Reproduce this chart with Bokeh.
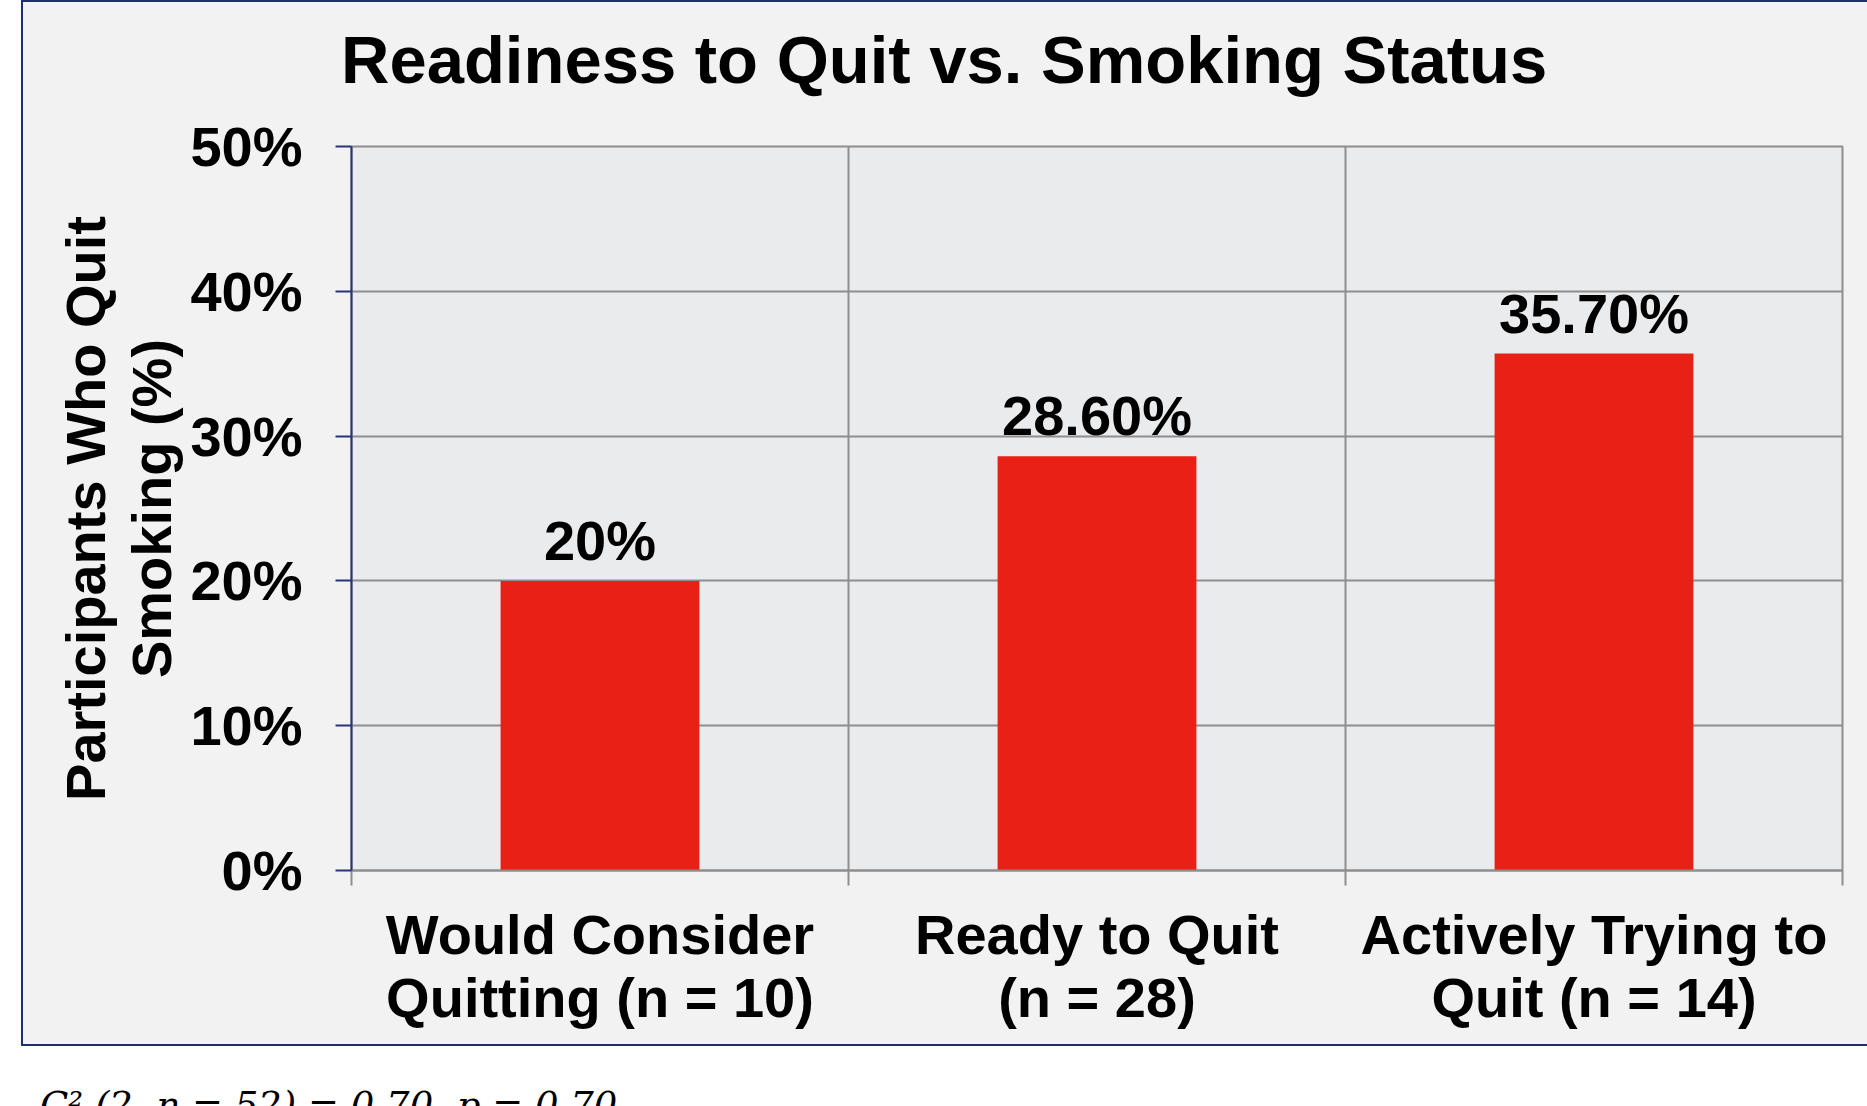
from bokeh.plotting import figure
from bokeh.models import (Range1d, FixedTicker, PrintfTickFormatter, ColumnDataSource,
                          LabelSet, Div, Spacer)
from bokeh.layouts import column, row
from bokeh.core.properties import value
from bokeh.embed import file_html
from bokeh.resources import INLINE

# Data
categories = ["Would Consider\nQuitting (n = 10)", "Ready to Quit\n(n = 28)", "Actively Trying to\nQuit (n = 14)"]
quit_pct = [20, 28.6, 35.7]
value_labels = ["20%", "28.60%", "35.70%"]
y_ticks = [0, 10, 20, 30, 40, 50]
title_text = "Readiness to Quit vs. Smoking Status"
y_title = "Participants Who Quit\nSmoking (%)"
footnote = "C\u00b2 (2, n = 52) = 0.70, p = 0.70"

FONT = "Liberation Sans"
PANEL = "#f2f2f2"
PLOT_BG = "#eaebed"
GRID = "#8e8e8e"
NAVY = "#26357a"
EDGE = "2px solid #1f2e6e"
RED = "#e82016"

centers = [i + 0.5 for i in range(len(categories))]
src = ColumnDataSource(dict(x=centers, top=quit_pct, lab=value_labels))

# chart title strip (top part of the grey panel)
title_div = Div(text=title_text, width=1846, height=102, margin=0,
                styles={"background-color": PANEL, "border-top": EDGE, "border-left": EDGE,
                        "box-sizing": "border-box", "padding-left": "318px",
                        "padding-top": "24px", "font-family": FONT, "font-weight": "bold",
                        "font-size": "67px", "line-height": "67px", "color": "black",
                        "white-space": "nowrap"})

p = figure(width=1846, height=944, margin=0,
           x_range=Range1d(0, len(categories)), y_range=Range1d(0, 50),
           output_backend="svg", toolbar_location=None,
           min_border_left=328, min_border_right=27,
           min_border_top=44, min_border_bottom=176)
p.border_fill_color = PANEL
p.background_fill_color = PLOT_BG
p.outline_line_color = GRID
p.outline_line_width = 2
p.styles = {"border-left": EDGE, "border-bottom": EDGE, "box-sizing": "border-box"}

# bars and their value labels
p.vbar(x="x", top="top", width=0.4, source=src, fill_color=RED, line_color=None)
p.add_layout(LabelSet(x="x", y="top", text="lab", source=src, y_offset=21,
                      text_align="center", text_baseline="alphabetic",
                      text_font=value(FONT), text_font_style="bold",
                      text_font_size="56px", text_color="black"))

# x axis: category names centred, separators at the boundaries
xa = p.xaxis[0]
xa.ticker = FixedTicker(ticks=centers, minor_ticks=list(range(len(categories) + 1)))
xa.major_label_overrides = {c: lab for c, lab in zip(centers, categories)}
xa.major_tick_out = 0
xa.major_tick_in = 0
xa.minor_tick_out = 15
xa.minor_tick_in = 0
xa.minor_tick_line_color = GRID
xa.minor_tick_line_width = 2
xa.axis_line_color = GRID
xa.axis_line_width = 2
xa.major_label_standoff = 17
xa.major_label_text_font = FONT
xa.major_label_text_font_style = "bold"
xa.major_label_text_font_size = "56px"
xa.major_label_text_color = "black"
xa.major_label_text_line_height = 1.0

# y axis
ya = p.yaxis[0]
ya.ticker = FixedTicker(ticks=y_ticks)
ya.formatter = PrintfTickFormatter(format="%d%%")
ya.major_tick_out = 16
ya.major_tick_in = 0
ya.minor_tick_out = 0
ya.minor_tick_in = 0
ya.major_tick_line_color = NAVY
ya.major_tick_line_width = 2
ya.axis_line_color = NAVY
ya.axis_line_width = 2
ya.major_label_standoff = 33
ya.major_label_text_font = FONT
ya.major_label_text_font_style = "bold"
ya.major_label_text_font_size = "56px"
ya.major_label_text_color = "black"
ya.axis_label = y_title
ya.axis_label_standoff = 4
ya.axis_label_text_font = FONT
ya.axis_label_text_font_style = "bold"
ya.axis_label_text_font_size = "56px"
ya.axis_label_text_color = "black"
ya.axis_label_text_line_height = 1.05

# grid
p.ygrid.grid_line_color = GRID
p.ygrid.grid_line_width = 2
p.xgrid.ticker = FixedTicker(ticks=list(range(1, len(categories) + 1)))
p.xgrid.grid_line_color = GRID
p.xgrid.grid_line_width = 2

note = Div(text=footnote, width=1000, height=60, margin=(41, 0, 0, 0),
           styles={"font-family": "DejaVu Serif", "font-style": "italic",
                   "font-size": "37px", "line-height": "37px", "color": "black",
                   "padding-left": "40px", "white-space": "pre"})

panel = column(title_div, p, spacing=0, margin=0)
panel.styles = {"background-color": PANEL}

spacer = Spacer(width=21, height=1046, margin=0)
layout = column(row(spacer, panel, spacing=0, margin=0), note, spacing=0, margin=0)
layout.styles = {"background-color": "white"}

open("out.html", "w").write(file_html(layout, INLINE))
